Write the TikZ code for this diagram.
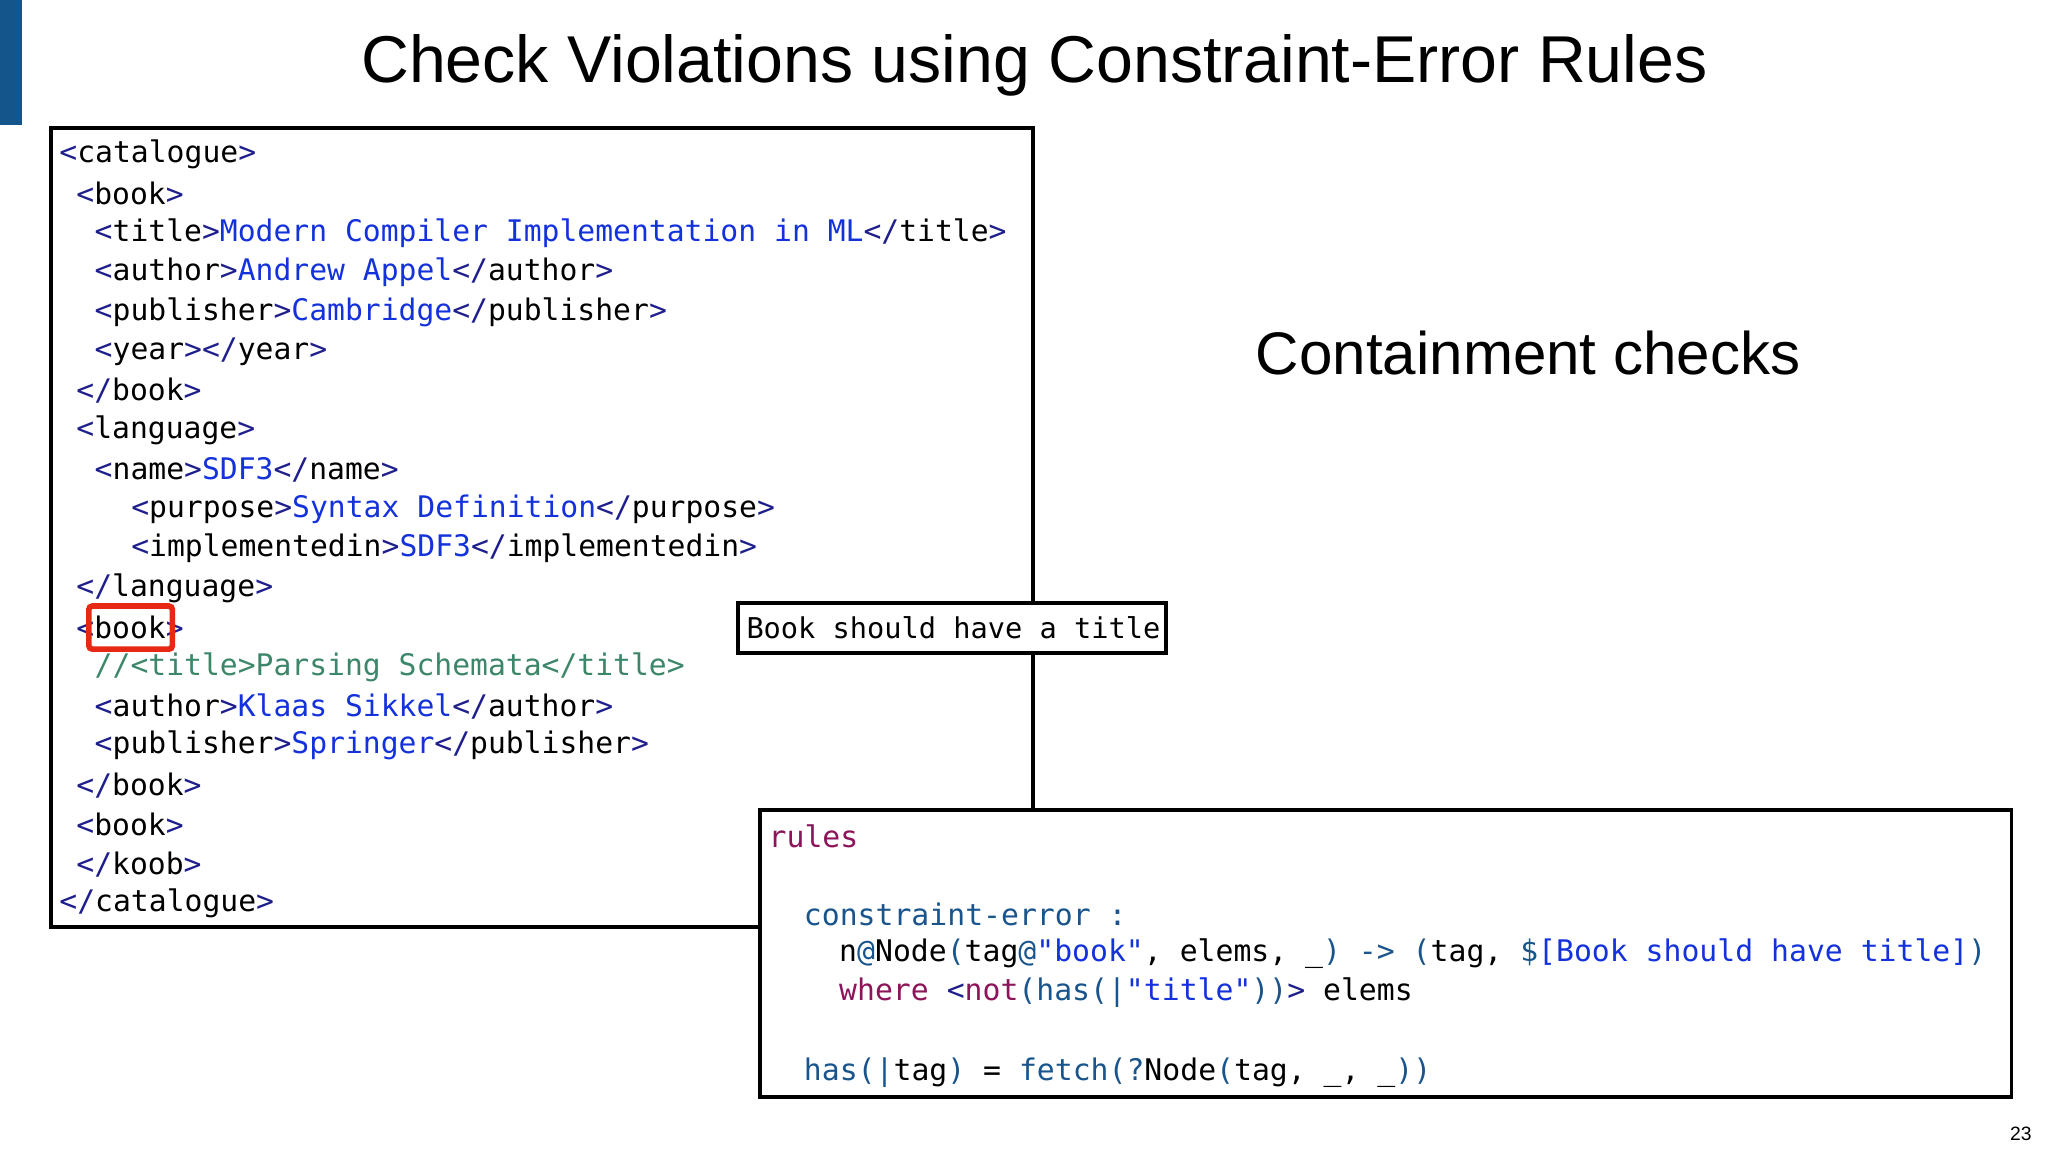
\documentclass[tikz,border=0pt]{standalone}
\usepackage{fontspec}
\setmainfont{Liberation Sans}
\newfontfamily\code{DejaVu Sans Mono}
\definecolor{navy}{RGB}{30,30,140}
\definecolor{val}{RGB}{20,50,220}
\definecolor{cmt}{RGB}{60,135,105}
\definecolor{kw}{RGB}{140,20,90}
\definecolor{teal}{RGB}{25,85,140}
\definecolor{bar}{RGB}{20,85,140}
\definecolor{redbox}{RGB}{230,40,20}
\newcommand{\xo}[1]{{\color{navy}<}#1{\color{navy}>}}
\newcommand{\xc}[1]{{\color{navy}</}#1{\color{navy}>}}
\newcommand{\xv}[1]{{\color{val}#1}}
\tikzset{
  xml/.style={anchor=west,inner sep=0pt,font=\code\fontsize{8.45}{10}\selectfont},
  rl/.style={anchor=west,inner sep=0pt,font=\code\fontsize{8.47}{10}\selectfont},
  box/.style={draw,line width=1.1pt,fill=white},
}
\begin{document}
\begin{tikzpicture}[x=0.013061cm,y=-0.013061cm]
\useasboundingbox (0,0) rectangle (1568,882);
\fill[bar] (0,0) rectangle (17,96);
\node[font=\fontsize{18.85}{22}\selectfont] (title) at (792,50) {Check Violations using Constraint-Error Rules};
\node[font=\fontsize{17.1}{20}\selectfont] (cc) at (1170,270) {Containment checks};
\node[font=\fontsize{5.5}{6}\selectfont,anchor=east] (pg) at (1565,868) {23};
\draw[box] (39,98) rectangle (791,710);
\node[xml] (l1) at (45,118) {\xo{catalogue}};
\node[xml] (l2) at (58,148.2) {\xo{book}};
\node[xml] (l3) at (72,178.4) {\xo{title}\xv{Modern Compiler Implementation in ML}\xc{title}};
\node[xml] (l4) at (72,208.6) {\xo{author}\xv{Andrew Appel}\xc{author}};
\node[xml] (l5) at (72,238.8) {\xo{publisher}\xv{Cambridge}\xc{publisher}};
\node[xml] (l6) at (72,269) {\xo{year}\xc{year}};
\node[xml] (l7) at (58,299.2) {\xc{book}};
\node[xml] (l8) at (58,329.4) {\xo{language}};
\node[xml] (l9) at (72,359.6) {\xo{name}\xv{SDF3}\xc{name}};
\node[xml] (l10) at (100,389.8) {\xo{purpose}\xv{Syntax Definition}\xc{purpose}};
\node[xml] (l11) at (100,420) {\xo{implementedin}\xv{SDF3}\xc{implementedin}};
\node[xml] (l12) at (58,450.2) {\xc{language}};
\node[xml] (l13) at (58,480.4) {\xo{book}};
\node[xml,text=cmt] (l14) at (72,510.6) {//<title>Parsing Schemata</title>};
\node[xml] (l15) at (72,540.8) {\xo{author}\xv{Klaas Sikkel}\xc{author}};
\node[xml] (l16) at (72,571) {\xo{publisher}\xv{Springer}\xc{publisher}};
\node[xml] (l17) at (58,601.2) {\xc{book}};
\node[xml] (l18) at (58,631.4) {\xo{book}};
\node[xml] (l19) at (58,661.6) {\xc{koob}};
\node[xml] (l20) at (45,691.8) {\xc{catalogue}};
\draw[redbox,line width=1.6pt,rounded corners=1pt] (68,464) rectangle (132,497);
\draw[box] (565,462) rectangle (893,500);
\node[xml,font=\code\fontsize{8.15}{10}\selectfont] (msg) at (571,481) {Book should have a title};
\draw[box] (582,620) rectangle (1540,840);
\node[rl,text=kw] (r1) at (588,640) {rules};
\node[rl,text=teal] (r2) at (615,700) {constraint-error :};
\node[rl] (r3) at (642,730) {n{\color{teal}@}Node{\color{teal}(}tag{\color{teal}@}\xv{"book"}, elems, \_{\color{teal})} {\color{teal}->} {\color{teal}(}tag, {\color{teal}\$}\xv{[Book should have title]}{\color{teal})}};
\node[rl] (r4) at (642,760) {{\color{kw}where} {\color{navy}<}{\color{kw}not}{\color{teal}(has(|}\xv{"title"}{\color{teal}))}{\color{navy}>} elems};
\node[rl] (r5) at (615,821) {{\color{teal}has(|}tag{\color{teal})} = {\color{teal}fetch(?}Node{\color{teal}(}tag, \_, \_{\color{teal}))}};
\end{tikzpicture}
\end{document}
